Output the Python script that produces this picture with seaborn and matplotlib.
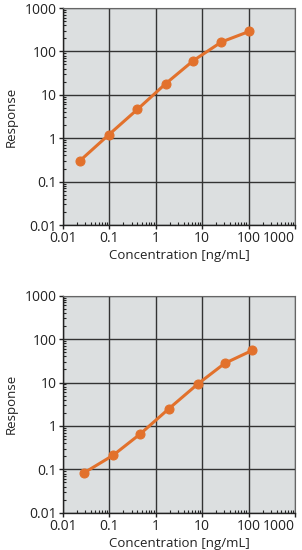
import matplotlib
matplotlib.use("Agg")
import matplotlib.pyplot as plt
import matplotlib.ticker as mticker
import seaborn as sns
import pandas as pd
import numpy as np

conc_top = [0.023, 0.096, 0.40, 1.63, 6.4, 26, 104]
resp_top = [0.30, 1.19, 4.6, 18, 61, 165, 290]
conc_bottom = [0.029, 0.12, 0.46, 1.92, 8.0, 30.5, 120]
resp_bottom = [0.084, 0.21, 0.65, 2.5, 9.2, 27.6, 55]
tick_vals = [0.01, 0.1, 1, 10, 100, 1000]
tick_labels = ["0.01", "0.1", "1", "10", "100", "1000"]

sns.set_style("white")
plt.rcParams['font.family'] = ['Open Sans', 'DejaVu Sans']

fig = plt.figure(figsize=(3.02, 5.5), dpi=100)
ax_pos = [[63/302, 1-225/550, 232/302, 217/550],
          [63/302, 1-512.7/550, 232/302, 217/550]]
orange = "#e2712c"
fs = 10

for pos, cx, ry in zip(ax_pos, [conc_top, conc_bottom], [resp_top, resp_bottom]):
    ax = fig.add_axes(pos)
    df = pd.DataFrame({"x": cx, "y": ry})
    ax.set_facecolor("#dcdfe0")
    sns.lineplot(data=df, x="x", y="y", ax=ax, color=orange, lw=2.2,
                 marker="o", markersize=6.5, markeredgecolor=orange, zorder=5)
    ax.set_xscale("log")
    ax.set_yscale("log")
    ax.set_xlim(0.01, 1000)
    ax.set_ylim(0.01, 1000)
    ax.set_xticks(tick_vals)
    ax.set_xticklabels(tick_labels)
    ax.set_yticks(tick_vals)
    ax.set_yticklabels(tick_labels)
    ax.get_xticklabels()[-1].set_horizontalalignment("right")
    ax.xaxis.set_minor_locator(mticker.LogLocator(base=10, subs=np.arange(2, 10), numticks=20))
    ax.yaxis.set_minor_locator(mticker.LogLocator(base=10, subs=np.arange(2, 10), numticks=20))
    ax.xaxis.set_minor_formatter(mticker.NullFormatter())
    ax.yaxis.set_minor_formatter(mticker.NullFormatter())
    ax.grid(True, which="major", color="#333333", lw=1.0)
    ax.tick_params(which="major", direction="out", length=3, width=1, labelsize=fs,
                   pad=1.5, color="#222222", labelcolor="#222222",
                   bottom=True, left=True)
    ax.tick_params(which="minor", direction="in", length=2.5, width=0.8, color="#222222",
                   bottom=True, left=True, top=False, right=False)
    for s in ["top", "right"]:
        ax.spines[s].set_color("#666666")
        ax.spines[s].set_linewidth(0.8)
    for s in ["left", "bottom"]:
        ax.spines[s].set_color("#222222")
        ax.spines[s].set_linewidth(1.0)
    ax.set_xlabel("Concentration [ng/mL]", fontsize=9.5, labelpad=2, color="#222222")
    ax.set_ylabel("Response", fontsize=9.5, labelpad=5, color="#222222")

fig.savefig("out.png", dpi=100)
